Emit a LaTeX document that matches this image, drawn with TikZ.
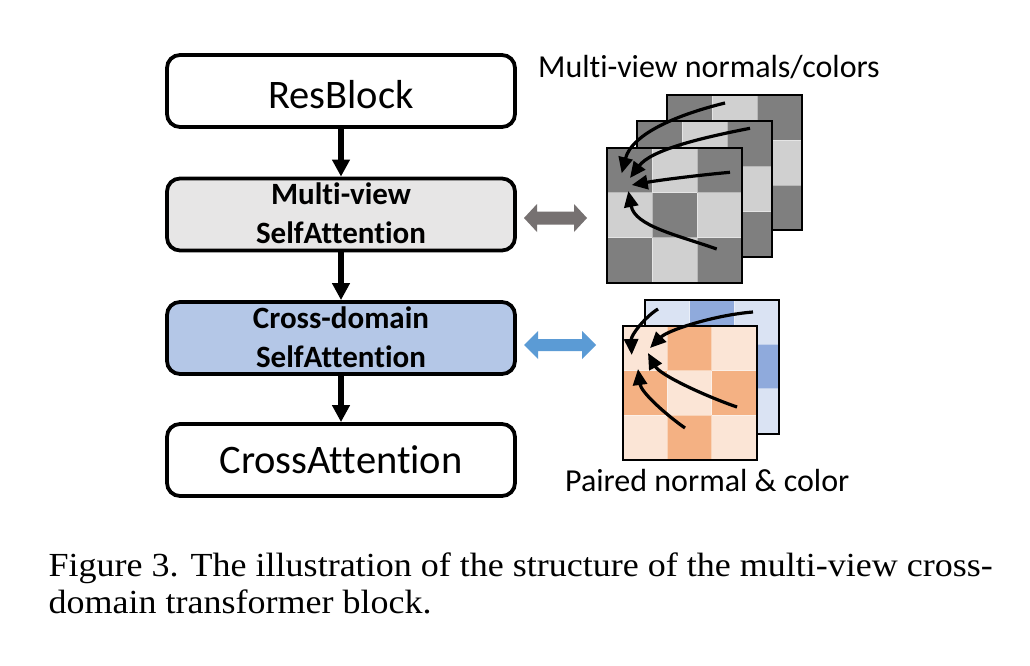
\documentclass[tikz,border=0pt]{standalone}
\usepackage{fontspec}
\setmainfont{Carlito}[Ligatures=NoCommon]
\newfontfamily\capfont{Liberation Serif}
\usetikzlibrary{arrows.meta}
\definecolor{gdark}{HTML}{7F7F7F}
\definecolor{glight}{HTML}{D0D0D0}
\definecolor{bdark}{HTML}{8FAADC}
\definecolor{blight}{HTML}{DAE3F3}
\definecolor{odark}{HTML}{F4B183}
\definecolor{olight}{HTML}{FBE5D6}
\definecolor{mvfill}{HTML}{E7E6E6}
\definecolor{cdfill}{HTML}{B4C7E7}
\definecolor{garrow}{HTML}{767171}
\definecolor{barrow}{HTML}{5B9BD5}
\newsavebox\capboxA
\newsavebox\capboxB
\newlength\capwidth
\newcommand\mygrid[5]{%
  \foreach \i in {0,1,2}{\foreach \j in {0,1,2}{%
    \pgfmathtruncatemacro\cpar{mod(\i+\j,2)}%
    \ifnum\cpar=0 \def\cc{#3}\else\def\cc{#4}\fi
    \fill[\cc] ({#1+\i*#5/3},{#2+\j*#5/3}) rectangle ++({#5/3},{#5/3});
  }}
  \draw[white,opacity=0.45,line width=0.8] ({#1+#5/3},#2) -- ++(0,#5) ({#1+2*#5/3},#2) -- ++(0,#5)
     (#1,{#2+#5/3}) -- ++(#5,0) (#1,{#2+2*#5/3}) -- ++(#5,0);
  \draw[black,line width=2] (#1,#2) rectangle ++(#5,#5);
}
\tikzset{
  blockbox/.style={draw=black, line width=3.8, rounded corners=13, minimum width=348, minimum height=72, inner sep=0},
  bigtxt/.style={anchor=base, inner sep=0, font=\fontsize{40.5}{48}\selectfont},
  boldtxt/.style={anchor=base, inner sep=0, font=\fontsize{31}{36}\selectfont\bfseries},
  sidetxt/.style={anchor=base west, inner sep=0, font=\fontsize{32}{36}\selectfont},
  flow/.style={line width=5.5pt, -{Triangle[length=17pt,width=17pt]}},
  attn/.style={line width=3.2pt, -{Triangle[length=16pt,width=14pt]}},
}
\begin{document}
\sbox\capboxA{\capfont\fontsize{33.7}{36}\selectfont Figure 3. The illustration of the structure of the multi-view cross-}%
\sbox\capboxB{\capfont\fontsize{33.7}{36}\selectfont domain transformer block.}%
\setlength\capwidth{\wd\capboxA}%
\pgfmathsetmacro\capsc{944/\capwidth}%
\begin{tikzpicture}[x=1pt,y=-1pt]
\useasboundingbox (0,0) rectangle (1030,666);
\fill[white] (0,0) rectangle (1030,666);
% blocks
\node[blockbox, fill=white]  (rb) at (341,91) {};
\node[blockbox, fill=mvfill] (mv) at (341,214.5) {};
\node[blockbox, fill=cdfill] (cd) at (341,338) {};
\node[blockbox, fill=white]  (ca) at (341,460) {};
\node[bigtxt] (rbt) at (341,109) {ResBlock};
\node[boldtxt] (mvt1) at (341,204) {Multi-view};
\node[boldtxt] (mvt2) at (341,243) {SelfAttention};
\node[boldtxt] (cdt1) at (341,328) {Cross-domain};
\node[boldtxt] (cdt2) at (341,367) {SelfAttention};
\node[bigtxt] (cat) at (341,473) {CrossAttention};
\draw[flow] (rb) -- (mv);
\draw[flow] (mv) -- (cd);
\draw[flow] (cd) -- (ca);
% double arrows
\fill[garrow] (524,218) -- (537,204) -- (537,211.5) -- (574,211.5) -- (574,204) -- (587,218)
  -- (574,232) -- (574,224.5) -- (537,224.5) -- (537,232) -- cycle;
\fill[barrow] (524,345) -- (538,331) -- (538,339) -- (582,339) -- (582,331) -- (596,345)
  -- (582,359) -- (582,351) -- (538,351) -- (538,359) -- cycle;
% gray grids
\mygrid{667}{95}{gdark}{glight}{135}
\mygrid{637}{121.5}{gdark}{glight}{135}
\mygrid{607}{147.5}{gdark}{glight}{135}
% colour grids
\mygrid{645}{299.5}{blight}{bdark}{134}
\mygrid{622.5}{326}{olight}{odark}{134}
% labels
\node[sidetxt] (lab1) at (538,77.5) {Multi-view normals/colors};
\node[sidetxt] (lab2) at (565,491) {Paired normal \& color};
% attention arrows (gray)
\coordinate (g1s) at (725,103);   \coordinate (g1e) at (621.7,173.3);
\coordinate (g2s) at (750,128.3); \coordinate (g2e) at (630,178);
\coordinate (g3s) at (730,172.3); \coordinate (g3e) at (631.7,185);
\coordinate (g4s) at (716.7,249); \coordinate (g4e) at (628.3,191);
\draw[attn] (g1s) .. controls (680,114) and (632,133) .. (g1e);
\draw[attn] (g2s) .. controls (700,138) and (651,150) .. (g2e);
\draw[attn] (g3s) .. controls (700,175) and (660,180) .. (g3e);
\draw[attn] (g4s) .. controls (677,235) and (635,226) .. (g4e);
% attention arrows (colour)
\coordinate (c1s) at (658,309);   \coordinate (c1e) at (631.7,355);
\coordinate (c2s) at (753,312);   \coordinate (c2e) at (650,348);
\coordinate (c3s) at (737,407);   \coordinate (c3e) at (648,353);
\coordinate (c4s) at (685,428);   \coordinate (c4e) at (638,369);
\draw[attn] (c1s) .. controls (645,317) and (631,335) .. (c1e);
\draw[attn] (c2s) .. controls (715,315) and (668,330) .. (c2e);
\draw[attn] (c3s) .. controls (705,396) and (660,375) .. (c3e);
\draw[attn] (c4s) .. controls (665,414) and (641,392) .. (c4e);
% caption
\node[anchor=base west, inner sep=0] (cap1) at (48.5,576.7) {\scalebox{\capsc}[1]{\usebox\capboxA}};
\node[anchor=base west, inner sep=0] (cap2) at (48.5,613.3) {\scalebox{\capsc}[1]{\usebox\capboxB}};
\end{tikzpicture}
\end{document}
